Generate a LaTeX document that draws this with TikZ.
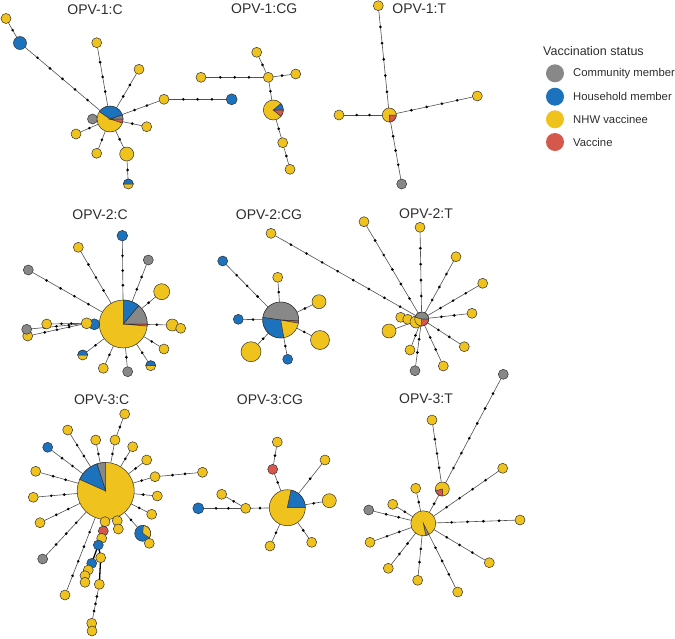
\documentclass[tikz,border=0pt]{standalone}
\usepackage{fontspec}
\setmainfont{Liberation Sans}
\usetikzlibrary{backgrounds}
\definecolor{yel}{RGB}{240,194,30}
\definecolor{blu}{RGB}{28,114,188}
\definecolor{gry}{RGB}{136,136,136}
\definecolor{vred}{RGB}{212,88,76}
\definecolor{outl}{RGB}{50,50,50}
\definecolor{edg}{RGB}{80,80,80}
\definecolor{txt}{RGB}{45,45,45}
\tikzset{
 nd/.style={circle,draw=outl,line width=0.5pt,inner sep=0pt,outer sep=0pt},
 dotnode/.style={circle,fill=black,inner sep=0pt,minimum size=2.9pt},
 edge/.style={draw=edg,line width=0.6pt},
 chainline/.style={draw=black,line width=1.3pt},
 ttl/.style={font=\fontsize{14}{16}\selectfont,text=txt},
 legh/.style={font=\fontsize{12.5}{14}\selectfont,text=txt,anchor=west,inner sep=0pt},
 legi/.style={font=\fontsize{11.3}{13}\selectfont,text=txt,anchor=west,inner sep=0pt},
 legc/.style={circle,inner sep=0pt,minimum size=18pt},
}
\newcommand\ND[5]{\node[nd,fill=#5,minimum size={2*#4pt}] (#1) at (#2,#3) {};}
\newcommand\PIE[5]{\filldraw[fill=#5,draw=outl,line width=0.5pt] (#1.center) -- ++(#3:#2pt) arc[start angle=#3,end angle=#4,radius=#2pt] -- cycle;}
\newcommand\ED[3]{\draw[edge] (#1) -- (#2);\ifnum#3>0\relax\foreach \k in {1,...,#3}{\pgfmathsetmacro\pp{\k/(#3+1)}\path (#1) -- (#2) node[dotnode,pos=\pp]{};}\fi}
\begin{document}
\begin{tikzpicture}[x=1pt,y=-1pt]
\useasboundingbox (0,0) rectangle (675,638);
% titles
\node[ttl] at (95,9.5) {OPV-1:C};
\node[ttl] at (264.3,9) {OPV-1:CG};
\node[ttl] at (419.3,9) {OPV-1:T};
\node[ttl] at (100,214.3) {OPV-2:C};
\node[ttl] at (269,214.3) {OPV-2:CG};
\node[ttl] at (426,213.8) {OPV-2:T};
\node[ttl] at (101.7,399.3) {OPV-3:C};
\node[ttl] at (270,399.3) {OPV-3:CG};
\node[ttl] at (426,398.8) {OPV-3:T};
% legend
\node[legh] (lh) at (543,50.7) {Vaccination status};
\node[legc,fill=gry] (lc1) at (555,73.3) {};
\node[legc,fill=blu] (lc2) at (555,96.7) {};
\node[legc,fill=yel] (lc3) at (555,119.3) {};
\node[legc,fill=vred] (lc4) at (555,142) {};
\node[legi] (lt1) at (573,73.3) {Community member};
\node[legi] (lt2) at (573,96.7) {Household member};
\node[legi] (lt3) at (573,119.3) {NHW vaccinee};
\node[legi] (lt4) at (573,142) {Vaccine};
% ---------- OPV-1:C
\ND{a1}{6}{18.5}{5}{yel}
\ND{b1}{20}{43}{6.5}{blu}
\ND{g1}{92.5}{119}{5}{gry}
\ND{c1}{110}{119}{13}{yel}
\PIE{c1}{13}{18}{145}{blu}
\PIE{c1}{13}{0}{18}{gry}
\PIE{c1}{13}{-18}{0}{vred}
\ND{y1a}{96.7}{42.7}{5}{yel}
\ND{y1b}{139}{69.3}{5}{yel}
\ND{y1c}{164}{99.3}{5}{yel}
\ND{b1x}{231.7}{99.3}{5.5}{blu}
\ND{y1d}{146.7}{126.7}{5}{yel}
\ND{y1e}{76}{134}{5}{yel}
\ND{y1f}{96.7}{153.3}{5}{yel}
\ND{y1g}{126.7}{154}{7}{yel}
\ND{h1}{128.3}{184}{5}{yel}
\PIE{h1}{5}{0}{180}{blu}
% ---------- OPV-1:CG
\ND{t2}{256.7}{52.3}{5}{yel}
\ND{h2}{268.3}{77.3}{5}{yel}
\ND{r2}{295.7}{74}{5}{yel}
\ND{l2}{201}{77.3}{5}{yel}
\ND{p2}{273.3}{110}{10}{yel}
\PIE{p2}{10}{0}{40}{blu}
\PIE{p2}{10}{-40}{0}{vred}
\ND{d2}{282.7}{142.7}{5}{yel}
\ND{e2}{290}{169.3}{5}{yel}
% ---------- OPV-1:T
\ND{t3}{378.3}{5.7}{5}{yel}
\ND{p3}{389.3}{115}{7}{yel}
\PIE{p3}{7}{-90}{0}{vred}
\ND{l3}{339}{115}{5}{yel}
\ND{r3}{477.3}{96}{5}{yel}
\ND{b3}{401.7}{184}{5}{gry}
% ---------- OPV-2:C
\ND{p4}{123.3}{324}{24}{yel}
\PIE{p4}{24}{0}{50}{gry}
\PIE{p4}{24}{50}{90}{blu}
\PIE{p4}{24}{-5}{0}{vred}
\ND{a4}{122.3}{235.7}{5.3}{blu}
\ND{b4}{78.3}{247.3}{5}{yel}
\ND{c4}{28.3}{270}{5}{gry}
\ND{d4}{148.3}{260}{5}{gry}
\ND{e4}{161.7}{291.7}{8}{yel}
\ND{f4}{172.3}{325}{6}{yel}
\ND{f4b}{180.7}{328.3}{5}{yel}
\ND{g4}{164}{349}{5}{yel}
\ND{h4}{150.7}{365.7}{5}{yel}
\PIE{h4}{5}{0}{180}{blu}
\ND{i4}{127.7}{371.7}{5}{gry}
\ND{j4}{103.3}{368.3}{5}{yel}
\ND{k4}{82.7}{355}{5}{yel}
\PIE{k4}{5}{0}{180}{blu}
\ND{m4}{94.3}{324.3}{5.5}{blu}
\ND{n4}{86.7}{323.3}{5.5}{yel}
\ND{o4}{46.7}{324}{5}{yel}
\ND{q4y}{27.7}{336}{5}{yel}
\ND{q4g}{26.7}{329.3}{5}{gry}
% ---------- OPV-2:CG
\ND{p5}{280.7}{320}{18}{yel}
\PIE{p5}{18}{-3}{172}{gry}
\PIE{p5}{18}{172}{280}{blu}
\PIE{p5}{18}{-10}{-3}{vred}
\ND{a5}{277.7}{277.3}{5}{yel}
\ND{b5}{319}{301.7}{7}{yel}
\ND{c5}{320}{340}{9.5}{yel}
\ND{d5}{287.7}{359.3}{5}{blu}
\ND{e5}{251}{351.7}{10}{yel}
\ND{f5}{238.3}{319.3}{5}{blu}
\ND{g5}{222.7}{261}{5}{blu}
\ND{h5}{271}{233.3}{5}{yel}
% ---------- OPV-2:T
\ND{q6}{400.7}{317.3}{5}{yel}
\ND{r6}{407.7}{319.3}{5}{yel}
\ND{s6}{416}{322}{6}{yel}
\ND{p6}{421.7}{319}{7}{yel}
\PIE{p6}{7}{0}{165}{gry}
\PIE{p6}{7}{-90}{0}{vred}
\ND{t6}{389}{331}{7}{yel}
\ND{u6}{364}{221.7}{5}{yel}
\ND{v6}{420}{227.3}{5}{yel}
\ND{w6}{456}{256.7}{5}{yel}
\ND{x6}{482.7}{283.3}{5}{yel}
\ND{y6}{472}{313.3}{5}{yel}
\ND{z6}{464.3}{346.7}{5}{yel}
\ND{aa6}{443.3}{366}{5}{yel}
\ND{bb6}{410}{350}{5}{yel}
\ND{cc6}{415}{370.7}{5}{gry}
% ---------- OPV-3:T
\ND{p9}{423.3}{523.3}{12.5}{yel}
\PIE{p9}{12.5}{-78}{-63}{gry}
\ND{a9}{432}{420}{5}{yel}
\ND{b9}{442.3}{489}{7}{yel}
\PIE{b9}{7}{195}{275}{vred}
\ND{c9}{503.3}{374.3}{5}{gry}
\ND{d9}{415.7}{488.3}{5}{yel}
\ND{e9}{392.7}{504.3}{5}{yel}
\ND{f9}{368.7}{510}{5}{gry}
\ND{g9}{502.7}{468.3}{5}{yel}
\ND{h9}{520}{520}{5}{yel}
\ND{i9}{489.3}{562.7}{5}{yel}
\ND{j9}{457.7}{592}{5}{yel}
\ND{k9}{417.7}{580.3}{5}{yel}
\ND{l9}{388.3}{568.3}{5}{yel}
\ND{m9}{370}{542.3}{5}{yel}
% ---------- OPV-3:CG
\ND{p8}{287.3}{507.7}{18}{yel}
\PIE{p8}{18}{0}{78}{blu}
\ND{a8}{272.7}{469.3}{5}{vred}
\ND{b8}{277.3}{442}{5}{yel}
\ND{c8}{325}{460}{5}{yel}
\ND{d8}{329.3}{500.7}{7}{yel}
\ND{e8}{311.7}{542.3}{5}{yel}
\ND{f8}{270}{546}{5}{yel}
\ND{g8}{245.7}{508.3}{5}{yel}
\ND{h8}{221.7}{494.3}{5}{yel}
\ND{i8}{198.3}{508.3}{5.5}{blu}
% ---------- OPV-3:C
\ND{p7}{105.7}{491}{28.5}{yel}
\PIE{p7}{28.5}{90}{108}{gry}
\PIE{p7}{28.5}{108}{156}{blu}
\ND{a7}{124.7}{414}{5}{yel}
\ND{b7}{115}{440}{5}{yel}
\ND{c7}{67.7}{430}{5}{yel}
\ND{d7}{95.7}{440}{5}{yel}
\ND{e7}{132.7}{446.7}{5}{yel}
\ND{f7}{146.7}{460}{5}{yel}
\ND{g7}{47.7}{447.3}{5}{blu}
\ND{h7}{35.7}{471.3}{5}{yel}
\ND{i7}{155}{476.7}{5}{yel}
\ND{j7}{202.5}{472.3}{5}{yel}
\ND{k7}{33.3}{497.3}{5}{yel}
\ND{l7}{157.3}{496}{5}{yel}
\ND{m7}{40}{522.7}{5}{yel}
\ND{n7}{151.7}{514.3}{5}{yel}
\ND{o7}{42.7}{559}{5}{gry}
\ND{q7}{65}{595}{5}{yel}
\ND{r7}{142.7}{533.3}{8}{blu}
\PIE{r7}{8}{-35}{85}{yel}
\ND{s7}{149.3}{543.3}{5}{yel}
\ND{u7a}{117.3}{520.7}{5}{yel}
\ND{u7b}{118.3}{529}{5}{yel}
\ND{v7}{105}{521.7}{5}{yel}
\ND{w7}{103.3}{531}{5}{vred}
\ND{x7}{101.7}{538.3}{5}{yel}
\ND{y7}{98.3}{545}{5}{blu}
\ND{z7}{100.7}{557.7}{5}{yel}
\ND{aa7}{91.7}{563.3}{5}{blu}
\ND{bb7}{88.3}{570}{5}{yel}
\ND{cc7}{85}{575.7}{5}{yel}
\ND{dd7}{85}{582.3}{5}{yel}
\ND{ee7}{99.3}{584.3}{5}{yel}
\ND{ff7}{91.7}{623.3}{5}{yel}
\ND{gg7}{92}{631}{5}{yel}
% ================= edges
\begin{pgfonlayer}{background}
% OPV-1:C
\ED{a1}{b1}{1}
\ED{b1}{c1}{5}
\ED{y1a}{c1}{3}
\ED{y1b}{c1}{2}
\ED{y1c}{c1}{2}
\ED{y1c}{b1x}{3}
\ED{y1d}{c1}{1}
\ED{y1e}{c1}{1}
\ED{y1f}{c1}{1}
\ED{y1g}{c1}{1}
\ED{h1}{y1g}{1}
% OPV-1:CG
\ED{t2}{h2}{1}
\ED{h2}{r2}{1}
\ED{l2}{h2}{3}
\ED{h2}{p2}{1}
\ED{p2}{d2}{1}
\ED{d2}{e2}{1}
% OPV-1:T
\ED{t3}{p3}{5}
\ED{l3}{p3}{2}
\ED{p3}{r3}{4}
\ED{p3}{b3}{3}
% OPV-2:C
\ED{a4}{p4}{3}
\ED{b4}{p4}{3}
\ED{c4}{p4}{4}
\ED{d4}{p4}{2}
\ED{e4}{p4}{1}
\ED{f4}{p4}{1}
\ED{g4}{p4}{1}
\ED{h4}{p4}{1}
\ED{i4}{p4}{1}
\ED{j4}{p4}{1}
\ED{k4}{p4}{1}
\ED{o4}{n4}{2}
\ED{q4g}{n4}{3}
\ED{q4y}{n4}{3}
% OPV-2:CG
\ED{a5}{p5}{1}
\ED{b5}{p5}{1}
\ED{c5}{p5}{1}
\ED{d5}{p5}{1}
\ED{e5}{p5}{1}
\ED{f5}{p5}{1}
\ED{g5}{p5}{3}
\ED{h5}{p6}{8}
% OPV-2:T
\ED{t6}{p6}{0}
\ED{u6}{p6}{5}
\ED{v6}{p6}{4}
\ED{w6}{p6}{3}
\ED{x6}{p6}{3}
\ED{y6}{p6}{2}
\ED{z6}{p6}{2}
\ED{aa6}{p6}{2}
\ED{bb6}{p6}{1}
\ED{cc6}{p6}{2}
% OPV-3:T
\ED{a9}{b9}{3}
\ED{c9}{b9}{6}
\ED{b9}{p9}{1}
\ED{d9}{p9}{1}
\ED{e9}{p9}{1}
\ED{f9}{p9}{2}
\ED{g9}{p9}{4}
\ED{h9}{p9}{4}
\ED{i9}{p9}{3}
\ED{j9}{p9}{3}
\ED{k9}{p9}{2}
\ED{l9}{p9}{2}
\ED{m9}{p9}{2}
% OPV-3:CG
\ED{a8}{p8}{1}
\ED{b8}{a8}{1}
\ED{c8}{p8}{1}
\ED{d8}{p8}{1}
\ED{e8}{p8}{1}
\ED{f8}{p8}{1}
\ED{g8}{p8}{1}
\ED{h8}{g8}{1}
\ED{i8}{g8}{2}
% OPV-3:C
\ED{a7}{b7}{1}
\ED{b7}{p7}{1}
\ED{c7}{p7}{2}
\ED{d7}{p7}{1}
\ED{e7}{p7}{1}
\ED{f7}{p7}{1}
\ED{g7}{p7}{2}
\ED{h7}{p7}{2}
\ED{i7}{p7}{1}
\ED{i7}{j7}{2}
\ED{k7}{p7}{2}
\ED{l7}{p7}{1}
\ED{m7}{p7}{2}
\ED{n7}{p7}{1}
\ED{o7}{p7}{3}
\ED{q7}{p7}{4}
\ED{r7}{p7}{1}
\draw[chainline] (v7.center) -- (w7.center) -- (x7.center) -- (y7.center) -- (z7.center) -- (ee7.center);
\draw[chainline] (y7.center) -- (aa7.center) -- (bb7.center) -- (cc7.center) -- (dd7.center);
\ED{ee7}{ff7}{3}
\end{pgfonlayer}
\end{tikzpicture}
\end{document}
